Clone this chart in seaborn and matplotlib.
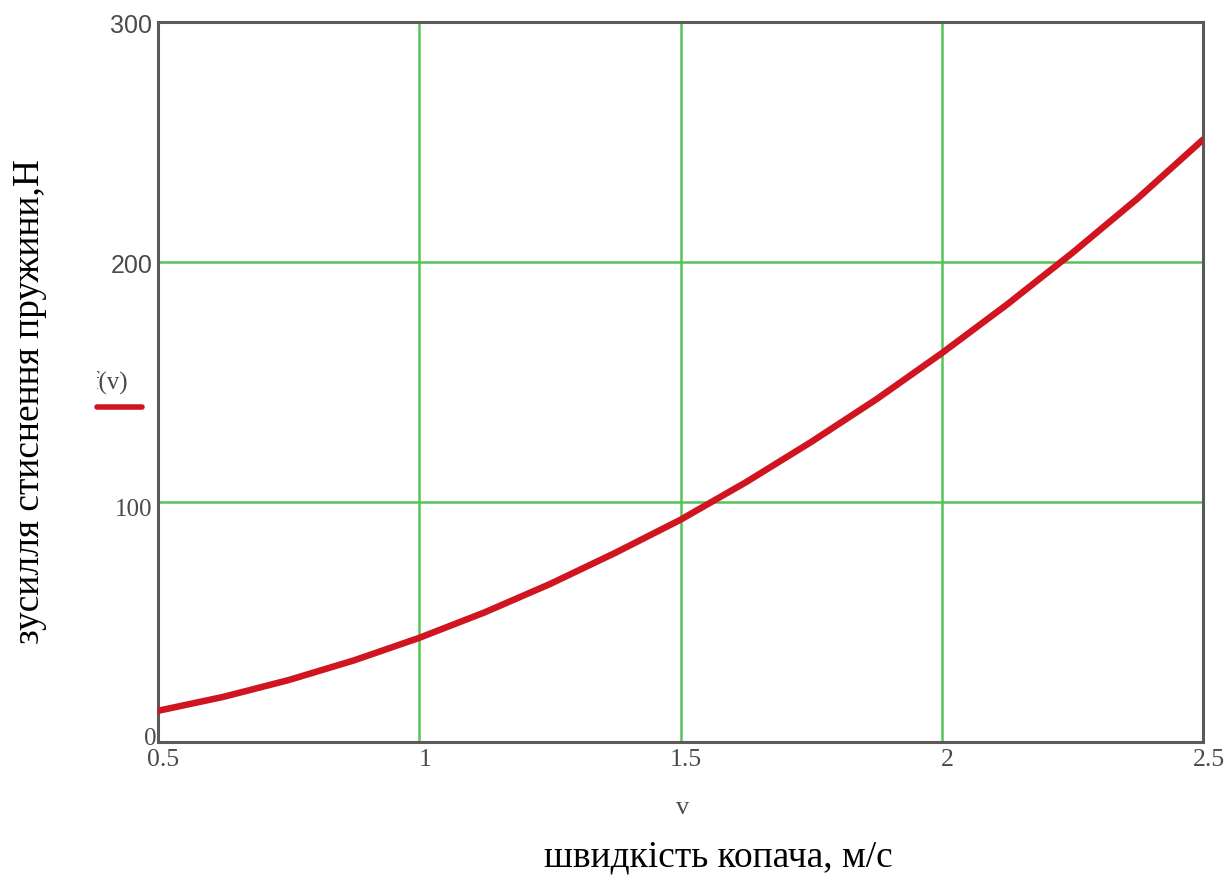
import matplotlib
matplotlib.use("Agg")
import matplotlib.pyplot as plt
import seaborn as sns
import pandas as pd
from matplotlib.transforms import Bbox

# Spring compression force vs. digger speed
speed = [0.5, 0.625, 0.75, 0.875, 1.0, 1.125, 1.25, 1.375, 1.5,
         1.625, 1.75, 1.875, 2.0, 2.125, 2.25, 2.375, 2.5]
force = [13.0, 18.8, 25.8, 34.0, 43.4, 54.0, 65.8, 78.8, 92.6,
         108.2, 125.0, 142.8, 162.0, 182.3, 203.8, 226.5, 251.0]

x_ticks = [0.5, 1.0, 1.5, 2.0, 2.5]
x_tick_labels = ["0.5", "1", "1.5", "2", "2.5"]
y_ticks = [0, 100, 200, 300]
y_tick_labels = ["0", "100", "200", "300"]

sns.set_theme(style="white")
plt.rcParams["font.family"] = ["Liberation Serif", "DejaVu Serif"]

df = pd.DataFrame({"v": speed, "f": force})

fig = plt.figure(figsize=(12.3, 8.75), dpi=100)
ax = fig.add_axes([158 / 1230, 1 - 742 / 875, (1203 - 158) / 1230, (742 - 22) / 875])

sns.lineplot(data=df, x="v", y="f", ax=ax, color="#d01520", linewidth=4.7,
             zorder=3, legend=False)

ax.set_xlim(0.5, 2.5)
ax.set_ylim(0, 300)
ax.set_xticks(x_ticks)
ax.set_yticks(y_ticks)
ax.set_xticklabels([])
ax.set_yticklabels([])
ax.tick_params(length=0)
ax.grid(True, color="#55c455", linewidth=1.8)
ax.set_axisbelow(True)
for s in ax.spines.values():
    s.set_color("#5a5a5a")
    s.set_linewidth(2.2)
ax.set_xlabel("")
ax.set_ylabel("")

tick_color = "#4a4a4a"
# x tick labels (serif)
for xv, lab in zip(x_ticks, x_tick_labels):
    ax.annotate(lab, xy=(xv, 0), xycoords="data", xytext=(4, -5),
                textcoords="offset points", ha="center", va="top",
                fontsize=18.5, color=tick_color, family=["Liberation Serif"])

# y tick labels
y_fonts = {"0": "Liberation Serif", "100": "Liberation Serif",
           "200": "Liberation Sans", "300": "Liberation Sans"}
y_offsets = {"0": 2, "100": -6, "200": -3, "300": -3}
y_dx = {"0": -1, "100": -4, "200": -4, "300": -4}
for yv, lab in zip(y_ticks, y_tick_labels):
    ax.annotate(lab, xy=(0.5, yv), xycoords="data", xytext=(y_dx[lab], y_offsets[lab]),
                textcoords="offset points", ha="right", va="center",
                fontsize=18, color=tick_color, family=[y_fonts[lab]])

# variable name under the x axis
fig.text(683 / 1230, 1 - 808 / 875, "v", ha="center", va="center",
         fontsize=19, color=tick_color, family=["Liberation Serif"])

# legend entry, partially hidden behind the left margin
clip = Bbox.from_extents(97, 0, 1230, 875)
t = fig.text(90 / 1230, 1 - 383 / 875, "f(v)", ha="left", va="center",
             fontsize=18, color=tick_color, family=["Liberation Serif"])
t.set_clip_on(True)
t.set_clip_box(clip)
fig.add_artist(plt.Line2D([97 / 1230, 142 / 1230], [1 - 407 / 875, 1 - 407 / 875],
                          transform=fig.transFigure, color="#d01520", linewidth=4))

# axis titles
fig.text(718 / 1230, 1 - 857 / 875, "швидкість копача, м/с", ha="center",
         va="center", fontsize=27, color="black")
fig.text(30 / 1230, 1 - 402 / 875, "зусилля стиснення пружини,Н", ha="center",
         va="center", rotation=90, fontsize=27, color="black")

fig.savefig("out.png", dpi=100, facecolor="white")
